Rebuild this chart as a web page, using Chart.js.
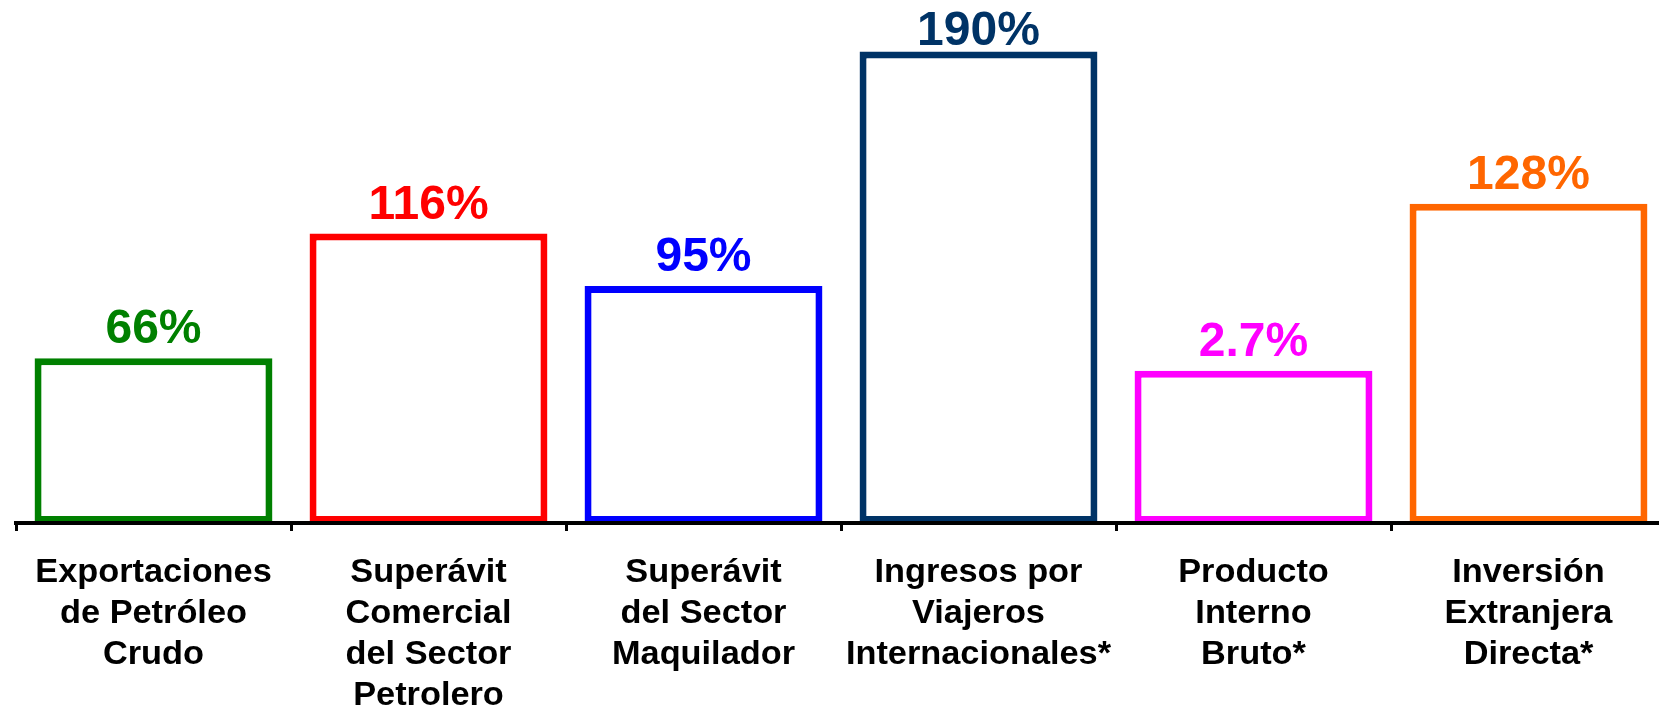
<!DOCTYPE html>
<html>
<head>
<meta charset="utf-8">
<script src="https://cdn.jsdelivr.net/npm/chart.js@4.4.1/dist/chart.umd.min.js"></script>
<style>
  html, body { margin: 0; padding: 0; background: #ffffff; overflow: hidden; width: 1659px; height: 707px; }
  #wrap { position: relative; width: 1666px; height: 707px; }
</style>
</head>
<body>
<div id="wrap"><canvas id="c"></canvas></div>
<script>
// ---- data ----
const categories = [
  ["Exportaciones", "de Petróleo", "Crudo"],
  ["Superávit", "Comercial", "del Sector", "Petrolero"],
  ["Superávit", "del Sector", "Maquilador"],
  ["Ingresos por", "Viajeros", "Internacionales*"],
  ["Producto", "Interno", "Bruto*"],
  ["Inversión", "Extranjera", "Directa*"]
];
const barHeights = [66, 116, 95, 189, 61, 128];
const valueLabels = ["66%", "116%", "95%", "190%", "2.7%", "128%"];
const barColors = ["#008000", "#FF0000", "#0000FF", "#003366", "#FF00FF", "#FF6600"];
const yMin = 0;
const yMax = 200;

const FONT = '"Liberation Sans", Arial, sans-serif';

const valueLabelPlugin = {
  id: 'valueLabels',
  afterDatasetsDraw(chart) {
    const ctx = chart.ctx;
    const meta = chart.getDatasetMeta(0);
    ctx.save();
    ctx.font = 'bold 48px ' + FONT;
    ctx.textAlign = 'center';
    ctx.textBaseline = 'alphabetic';
    meta.data.forEach((bar, i) => {
      ctx.fillStyle = barColors[i];
      const y = Math.max(bar.y - 15, 45);
      ctx.fillText(valueLabels[i], bar.x, y);
    });
    ctx.restore();
  }
};

const xLabelPlugin = {
  id: 'xLabels',
  afterDraw(chart) {
    const ctx = chart.ctx;
    const xs = chart.scales.x;
    const base = chart.chartArea.bottom + 59;
    ctx.save();
    ctx.font = 'bold 33px ' + FONT;
    ctx.fillStyle = '#000000';
    ctx.textAlign = 'center';
    ctx.textBaseline = 'alphabetic';
    categories.forEach((lines, i) => {
      const x = xs.getPixelForValue(i);
      lines.forEach((line, k) => {
        ctx.save();
        ctx.translate(x, base + k * 41);
        ctx.scale(1.04, 1);
        ctx.fillText(line, 0, 0);
        ctx.restore();
      });
    });
    ctx.restore();
  }
};

new Chart(document.getElementById('c'), {
  type: 'bar',
  data: {
    labels: categories,
    datasets: [{
      data: barHeights,
      backgroundColor: '#ffffff',
      borderColor: barColors,
      borderWidth: 7,
      borderSkipped: false,
      barPercentage: 0.865,
      categoryPercentage: 1.0
    }]
  },
  options: {
    responsive: true,
    maintainAspectRatio: false,
    animation: false,
    events: [],
    layout: { padding: { left: 16, right: 0, top: 24, bottom: 0 } },
    plugins: {
      legend: { display: false },
      tooltip: { enabled: false },
      title: { display: false }
    },
    scales: {
      x: {
        offset: true,
        grid: {
          offset: true,
          drawOnChartArea: false,
          drawTicks: true,
          tickLength: 8,
          color: '#000000',
          lineWidth: 3,
          z: 1
        },
        border: { display: true, color: '#000000', width: 4, z: 1 },
        ticks: { display: false },
        afterFit(scale) { scale.height = 184; }
      },
      y: {
        display: false,
        min: yMin,
        max: yMax,
        grid: { display: false }
      }
    }
  },
  plugins: [valueLabelPlugin, xLabelPlugin]
});
</script>
</body>
</html>
